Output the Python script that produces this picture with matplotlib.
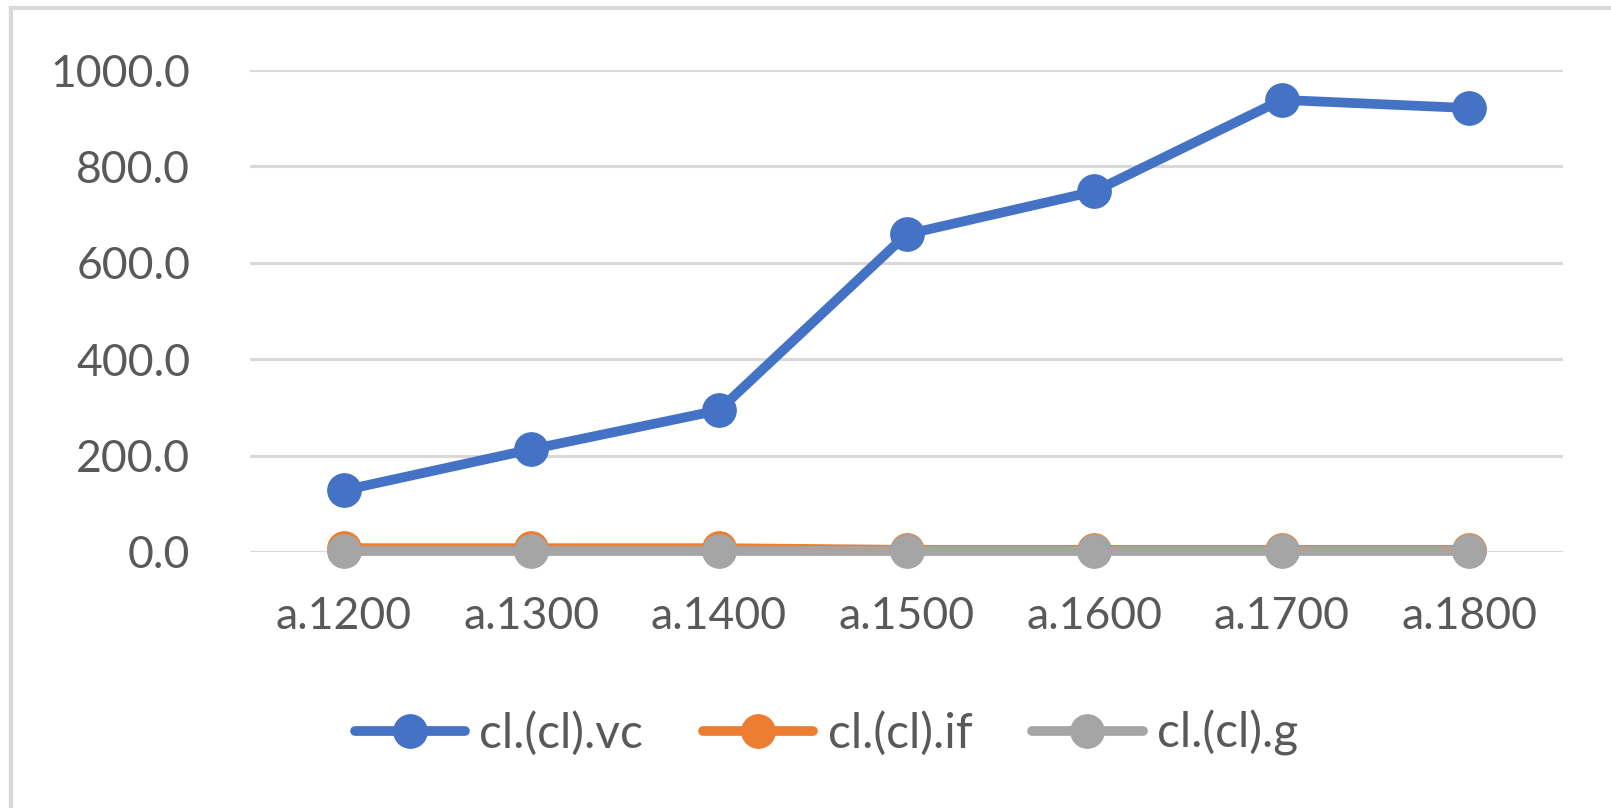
import matplotlib.pyplot as plt
from matplotlib.lines import Line2D

# categories and series values
categories = ['a.1200', 'a.1300', 'a.1400', 'a.1500', 'a.1600', 'a.1700', 'a.1800']
vc = [128, 213, 294, 659, 748, 938, 921]
if_vals = [8, 8, 8, 4.5, 4.5, 4.5, 4.5]
g = [1.5, 1.5, 1.5, 1.5, 1.5, 1.5, 1.5]
series_names = ['cl.(cl).vc', 'cl.(cl).if', 'cl.(cl).g']
y_ticks = [0, 200, 400, 600, 800, 1000]

colors = ['#4472C4', '#ED7D31', '#A5A5A5']
text_color = '#595959'
grid_color = '#D9D9D9'

plt.rcParams['font.family'] = ['Lato', 'DejaVu Sans']

fig = plt.figure(figsize=(16.11, 8.08), dpi=100)
W, H = 1611, 808
ax = fig.add_axes([250 / W, 1 - 552 / H, (1563 - 250) / W, (552 - 70) / H])

x = range(len(categories))
for vals, c, name in zip([vc, if_vals, g], colors, series_names):
    ax.plot(x, vals, color=c, lw=7, marker='o', ms=24, label=name,
            solid_capstyle='round', zorder=3)

ax.set_xlim(-0.5, len(categories) - 0.5)
ax.set_ylim(0, 1000)
ax.set_yticks(y_ticks)
ax.set_yticklabels([f'{v:.1f}' for v in y_ticks])
ax.set_xticks(list(x))
ax.set_xticklabels(categories)
ax.tick_params(length=0, labelsize=32, colors=text_color)
ax.tick_params(axis='y', pad=43)
ax.tick_params(axis='x', pad=32)
ax.yaxis.grid(True, color=grid_color, lw=2.2, zorder=0)
ax.set_axisbelow(True)
for s in ax.spines.values():
    s.set_visible(False)
for ln in ax.get_lines():
    ln.set_clip_on(False)

# legend below the plot
handles = [Line2D([], [], color=c, lw=7, marker='o', ms=24, solid_capstyle='round')
           for c in colors]
fig.legend(handles, series_names, loc='center', bbox_to_anchor=(0.513, 1 - 733 / H),
           ncol=3, frameon=False, fontsize=34.5, labelcolor=text_color,
           handlelength=2.3, handletextpad=0.3, columnspacing=1.25)

# chart area border (top and left edges visible)
fig.add_artist(Line2D([11 / W, 11 / W], [0, 1 - 8 / H], color=grid_color, lw=3,
                      transform=fig.transFigure))
fig.add_artist(Line2D([11 / W, 1], [1 - 8 / H, 1 - 8 / H], color=grid_color, lw=3,
                      transform=fig.transFigure))

fig.savefig('out.png', dpi=100)
